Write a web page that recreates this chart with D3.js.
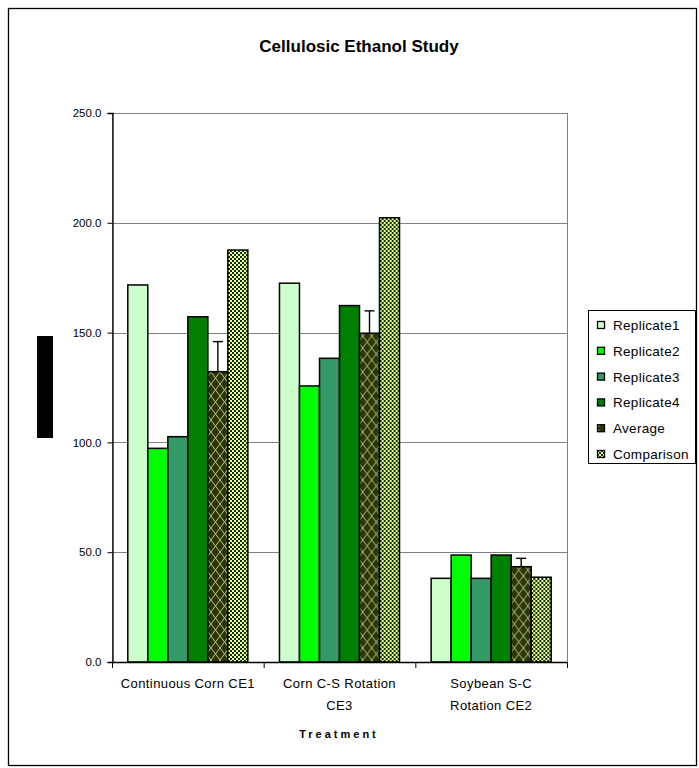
<!DOCTYPE html>
<html>
<head>
<meta charset="utf-8">
<script src="https://cdn.jsdelivr.net/npm/d3@7"></script>
<style>
  html, body { margin: 0; padding: 0; background: #fff; }
  svg { display: block; font-family: "Liberation Sans", Arial, sans-serif; }
</style>
</head>
<body>
<svg id="chart" width="699" height="768"></svg>
<script>
// Treatments (category labels, split into lines)
const categories = [
  ["Continuous Corn CE1"],
  ["Corn C-S Rotation", "CE3"],
  ["Soybean S-C", "Rotation CE2"]
];
const seriesNames = ["Replicate1", "Replicate2", "Replicate3", "Replicate4", "Average", "Comparison"];
const replicate1 = [171.7, 172.5, 38.1];
const replicate2 = [97.3, 125.7, 48.7];
const replicate3 = [102.6, 138.3, 38.1];
const replicate4 = [157.2, 162.3, 48.7];
const average    = [132.2, 149.7, 43.4];
const averageErr = [13.7, 10.2, 3.8];
const comparison = [187.6, 202.3, 38.6];
const yTicks = [0, 50, 100, 150, 200, 250];

const seriesValues = [replicate1, replicate2, replicate3, replicate4, average, comparison];
const seriesFill = ["#ccffcc", "#00ff00", "#339966", "#008000", "url(#avgPat)", "url(#cmpPat)"];

const svg = d3.select("#chart");

// fill patterns: diamond lattice for the average, fine checker for the comparison
const defs = svg.append("defs");
const avg = defs.append("pattern").attr("id", "avgPat")
  .attr("patternUnits", "userSpaceOnUse").attr("width", 9).attr("height", 12);
avg.append("rect").attr("width", 9).attr("height", 12).attr("fill", "#333300");
avg.append("path").attr("d", "M0,0 L9,12 M9,0 L0,12")
  .attr("stroke", "#99cc99").attr("stroke-width", 1).attr("fill", "none");
const cmp = defs.append("pattern").attr("id", "cmpPat")
  .attr("patternUnits", "userSpaceOnUse").attr("width", 4).attr("height", 4);
cmp.append("rect").attr("width", 4).attr("height", 4).attr("fill", "#ffff99");
cmp.append("rect").attr("x", 0).attr("y", 0).attr("width", 2).attr("height", 2).attr("fill", "#003300");
cmp.append("rect").attr("x", 2).attr("y", 2).attr("width", 2).attr("height", 2).attr("fill", "#003300");

// chart border
svg.append("rect").attr("x", 8.5).attr("y", 8.5).attr("width", 688).attr("height", 757)
  .attr("fill", "#fff").attr("stroke", "#000").attr("stroke-width", 1.3);

// title
svg.append("text").attr("x", 359).attr("y", 52).attr("text-anchor", "middle")
  .attr("font-size", 17).attr("font-weight", "bold").text("Cellulosic Ethanol Study");

const plot = { left: 112, right: 567, top: 113, bottom: 662 };

const x0 = d3.scaleBand().domain(d3.range(categories.length))
  .range([plot.left, plot.right]).padding(0);
const x1 = d3.scaleBand().domain(d3.range(seriesNames.length))
  .range([0, x0.bandwidth()]).paddingInner(0).paddingOuter(0.79);
const y = d3.scaleLinear().domain([0, 250]).range([plot.bottom, plot.top]);

// plot area frame
svg.append("rect").attr("x", plot.left + 0.5).attr("y", plot.top + 0.5)
  .attr("width", plot.right - plot.left).attr("height", plot.bottom - plot.top)
  .attr("fill", "#fff").attr("stroke", "#808080").attr("stroke-width", 1);

// gridlines
svg.append("g").selectAll("line").data(yTicks.slice(1)).join("line")
  .attr("x1", plot.left).attr("x2", plot.right)
  .attr("y1", d => Math.round(y(d)) + 0.5).attr("y2", d => Math.round(y(d)) + 0.5)
  .attr("stroke", "#808080").attr("stroke-width", 1);

// bars
const groups = svg.append("g").selectAll("g").data(categories).join("g")
  .attr("transform", (d, i) => `translate(${x0(i)},0)`);
groups.selectAll("rect").data((d, i) => seriesValues.map((vals, s) => ({ s, v: vals[i] })))
  .join("rect")
  .attr("x", d => x1(d.s))
  .attr("y", d => y(d.v))
  .attr("width", x1.bandwidth())
  .attr("height", d => y(0) - y(d.v))
  .attr("fill", d => seriesFill[d.s])
  .attr("stroke", "#000").attr("stroke-width", 1.5);

// error bars on the average (plus direction)
const avgIdx = 4;
const err = svg.append("g").attr("stroke", "#000").attr("stroke-width", 1.4);
average.forEach((v, i) => {
  const cx = x0(i) + x1(avgIdx) + x1.bandwidth() / 2;
  err.append("line").attr("x1", cx).attr("x2", cx).attr("y1", y(v)).attr("y2", y(v + averageErr[i]));
  err.append("line").attr("x1", cx - 5).attr("x2", cx + 5)
    .attr("y1", y(v + averageErr[i])).attr("y2", y(v + averageErr[i]));
});

// y axis
const yAxis = svg.append("g").attr("transform", `translate(${plot.left + 0.5},0)`)
  .call(d3.axisLeft(y).tickValues(yTicks).tickFormat(d3.format(".1f")).tickSize(5).tickPadding(6));
yAxis.select(".domain").attr("stroke", "#000").attr("stroke-width", 1.3);
yAxis.selectAll(".tick line").attr("stroke", "#000");
yAxis.selectAll(".tick text").attr("font-size", 11.5).attr("fill", "#000")
  .attr("font-family", "Liberation Sans, Arial, sans-serif");

// x axis
const xAxis = svg.append("g");
xAxis.append("line").attr("x1", plot.left).attr("x2", plot.right)
  .attr("y1", plot.bottom + 0.5).attr("y2", plot.bottom + 0.5)
  .attr("stroke", "#000").attr("stroke-width", 1.3);
xAxis.selectAll(".xtick").data(d3.range(categories.length + 1)).join("line")
  .attr("x1", d => plot.left + d * x0.step() + 0.5).attr("x2", d => plot.left + d * x0.step() + 0.5)
  .attr("y1", plot.bottom).attr("y2", plot.bottom + 6)
  .attr("stroke", "#000");
xAxis.selectAll(".xlabel").data(categories).join("text")
  .attr("text-anchor", "middle").attr("font-size", 13).attr("letter-spacing", 0.4)
  .attr("x", (d, i) => x0(i) + x0.bandwidth() / 2)
  .attr("y", 688)
  .each(function (lines) {
    const t = d3.select(this);
    lines.forEach((ln, k) => {
      t.append("tspan").attr("x", t.attr("x")).attr("dy", k === 0 ? 0 : 22).text(ln);
    });
  });

// axis titles
svg.append("text").attr("x", 339).attr("y", 738)
  .attr("text-anchor", "middle").attr("font-size", 11).attr("font-weight", "bold")
  .attr("letter-spacing", 3).text("Treatment");
svg.append("rect").attr("x", 37).attr("y", 336).attr("width", 16).attr("height", 102).attr("fill", "#000");

// legend
const legend = svg.append("g");
legend.append("rect").attr("x", 588.5).attr("y", 310.5).attr("width", 107).attr("height", 153)
  .attr("fill", "#fff").attr("stroke", "#000").attr("stroke-width", 1);
const items = legend.selectAll(".item").data(seriesNames).join("g")
  .attr("transform", (d, i) => `translate(597,${325 + i * 25.8})`);
items.append("rect").attr("x", 0.5).attr("y", -3.5).attr("width", 7).attr("height", 7)
  .attr("fill", (d, i) => seriesFill[i]).attr("stroke", "#000").attr("stroke-width", 1.3);
items.append("text").attr("x", 16).attr("y", 5).attr("font-size", 13.5).attr("letter-spacing", 0.3).text(d => d);
</script>
</body>
</html>
